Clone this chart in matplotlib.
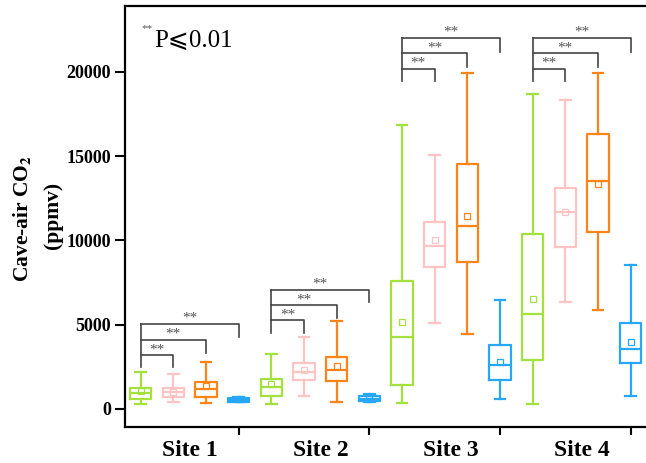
import matplotlib
matplotlib.use('Agg')
import matplotlib.pyplot as plt
import matplotlib.transforms as mtransforms
import numpy as np

# sites and box colours (4 boxes per site)
sites = ['Site 1', 'Site 2', 'Site 3', 'Site 4']
box_colors = ['#a3e23d', '#ffc3c3', '#ff8418', '#27a7f7']

# box statistics, order: site1 (green, pink, orange, blue), site2 ..., site4
whislo = [280, 400, 340, 400, 300, 790, 435, 400, 340, 5085, 4470, 614, 300, 6350, 5840, 790]
q1 = [612, 693, 732, 435, 771, 1700, 1681, 475, 1424, 8409, 8706, 1721, 2908, 9632, 10490, 2710]
med = [930, 990, 1167, 534, 1286, 2195, 2314, 614, 4290, 9692, 10860, 2593, 5620, 11710, 13550, 3580]
q3 = [1265, 1265, 1583, 633, 1800, 2730, 3106, 752, 7600, 11080, 14540, 3780, 10370, 13134, 16300, 5085]
whishi = [2214, 2060, 2790, 730, 3264, 4273, 5200, 890, 16855, 15074, 19920, 6450, 18675, 18320, 19920, 8566]
means = [1090, 1030, 1365, 560, 1464, 2294, 2532, 600, 5163, 10030, 11454, 2790, 6548, 11670, 13350, 3960]

# significance brackets per site: left leg bottom, bracket tops, right leg bottoms
leg_bottom = [2470, 4530, 19440, 19440]
bracket_tops = [[3190, 4110, 5044], [5260, 6150, 7060], [20180, 21090, 22000], [20180, 21090, 22000]]
bracket_right = [[2470, 3300, 4250], [4530, 5380, 6330], [19440, 20300, 21200], [19440, 20300, 21200]]

serif = ['Liberation Serif', 'DejaVu Serif']
plt.rcParams['font.family'] = serif
plt.rcParams['mathtext.fontset'] = 'stix'

fig = plt.figure(figsize=(6.46, 4.63), dpi=100)
ax = fig.add_axes([0.1935, 0.0778, 0.8065, 0.9092])

positions = np.arange(len(med))
stats = []
for i in range(len(med)):
    stats.append(dict(whislo=whislo[i], q1=q1[i], med=med[i], q3=q3[i],
                      whishi=whishi[i], mean=means[i], fliers=[]))

for i, st in enumerate(stats):
    c = box_colors[i % 4]
    ax.bxp([st], positions=[positions[i]], widths=0.66, showmeans=True,
           showfliers=False, capwidths=0.32,
           boxprops=dict(color=c, linewidth=1.6),
           whiskerprops=dict(color=c, linewidth=1.6),
           capprops=dict(color=c, linewidth=1.6),
           medianprops=dict(color=c, linewidth=1.6),
           meanprops=dict(marker='s', markersize=4.5, markerfacecolor='none',
                          markeredgecolor=c, markeredgewidth=0.9))

# significance brackets
for g in range(len(sites)):
    x0 = positions[4 * g]
    ax.plot([x0, x0], [leg_bottom[g], bracket_tops[g][-1]], color='#444444', lw=1.2)
    for k in range(3):
        x1 = positions[4 * g + k + 1]
        top = bracket_tops[g][k]
        ax.plot([x0, x1, x1], [top, top, bracket_right[g][k]], color='#444444', lw=1.2)
        ax.text((x0 + x1) / 2, top + 330, '**', ha='center', va='center',
                fontsize=11, color='#555555')

ax.set_xlim(-0.48, 15.47)
ax.set_ylim(-1070, 23900)
ax.set_yticks([0, 5000, 10000, 15000, 20000])
ax.set_yticklabels(['0', '5000', '10000', '15000', '20000'], fontsize=13, fontweight='bold')
ax.set_xticks([3, 7, 11, 15])
ax.set_xticklabels([])
ax.tick_params(axis='y', direction='out', length=7, width=1.5, pad=3)
ax.tick_params(axis='x', direction='out', length=6, width=1.5)

trans = mtransforms.blended_transform_factory(ax.transData, ax.transAxes)
for g, name in enumerate(sites):
    ax.text(positions[4 * g] + 1.5, -0.057, name, transform=trans, ha='center',
            va='center', fontsize=17, fontweight='bold')

for side in ['left', 'bottom', 'top']:
    ax.spines[side].set_linewidth(1.6)
ax.spines['right'].set_visible(False)

fig.text(22 / 646, 1 - 218 / 463, 'Cave-air CO$_\\mathbf{2}$', rotation=90,
         ha='center', va='center', fontsize=15.5, fontweight='bold')
fig.text(53 / 646, 1 - 215 / 463, '(ppmv)', rotation=90, ha='center',
         va='center', fontsize=15.5, fontweight='bold')

ax.text(0.031, 0.947, '**', transform=ax.transAxes, fontsize=8, color='#555555',
        ha='left', va='center')
ax.text(0.056, 0.918, 'P\u2a7d0.01', transform=ax.transAxes, fontsize=18,
        ha='left', va='center', family=['Liberation Serif', 'DejaVu Sans'])

fig.savefig('out.png', dpi=100)
